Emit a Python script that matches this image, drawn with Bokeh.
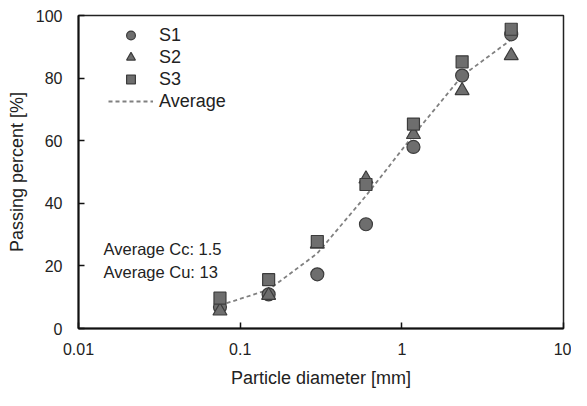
from bokeh.plotting import figure
from bokeh.embed import file_html
from bokeh.resources import INLINE
from bokeh.models import FixedTicker, CustomJSTickFormatter, Legend, LegendItem, Label

diam = [0.075, 0.15, 0.3, 0.6, 1.18, 2.36, 4.75]
s1 = [6.9, 10.9, 17.3, 33.3, 58.0, 80.8, 94.0]
s2 = [5.6, 10.6, 27.0, 47.8, 62.0, 76.0, 87.2]
s3 = [9.7, 15.6, 27.8, 46.0, 65.3, 85.2, 95.6]
avg = [7.4, 12.4, 24.0, 42.4, 61.8, 80.7, 92.3]

FONT = "Liberation Sans"
FILL = "#6e6e6e"
EDGE = "#3c3c3c"

p = figure(width=571, height=390, x_axis_type="log", x_range=(0.01, 10), y_range=(0, 100),
           output_backend="svg", toolbar_location=None,
           min_border_left=78, min_border_right=8, min_border_top=15, min_border_bottom=60)

p.grid.visible = False
p.outline_line_color = "#222222"
p.outline_line_width = 1.5

p.xaxis.ticker = FixedTicker(ticks=[0.01, 0.1, 1, 10], minor_ticks=[])
p.xaxis.formatter = CustomJSTickFormatter(code="return tick.toString();")
p.yaxis.ticker = FixedTicker(ticks=[0, 20, 40, 60, 80, 100], minor_ticks=[])

for ax in (p.xaxis[0], p.yaxis[0]):
    ax.major_tick_in = 6
    ax.major_tick_out = 0
    ax.minor_tick_in = 0
    ax.minor_tick_out = 0
    ax.axis_line_width = 2
    ax.axis_line_color = "#111111"
    ax.major_tick_line_color = "#111111"
    ax.major_tick_line_width = 1.5
    ax.major_label_text_font = FONT
    ax.major_label_text_font_size = "16px"
    ax.major_label_text_color = "#222222"
    ax.axis_label_text_font = FONT
    ax.axis_label_text_font_size = "18px"
    ax.axis_label_text_font_style = "normal"
    ax.axis_label_text_color = "#222222"

p.xaxis.axis_label = "Particle diameter [mm]"
p.yaxis.axis_label = "Passing percent [%]"
p.xaxis.major_label_standoff = 14
p.xaxis.axis_label_standoff = 10
p.yaxis.major_label_standoff = 16
p.yaxis.axis_label_standoff = 6

r_avg = p.line(diam, avg, line_color="#808080", line_width=1.8, line_dash="4 3")
r1 = p.scatter(diam, s1, marker="circle", size=13, fill_color=FILL, line_color=EDGE, line_width=1.2)
r2 = p.scatter(diam, s2, marker="triangle", size=14, fill_color=FILL, line_color=EDGE, line_width=1.2)
r3 = p.scatter(diam, s3, marker="square", size=12, fill_color=FILL, line_color=EDGE, line_width=1.2)

legend = Legend(items=[LegendItem(label="S1", renderers=[r1]),
                       LegendItem(label="S2", renderers=[r2]),
                       LegendItem(label="S3", renderers=[r3]),
                       LegendItem(label="Average", renderers=[r_avg])],
                location=(30, 216), padding=0, margin=0, spacing=0,
                glyph_width=45, glyph_height=22, label_height=22, label_standoff=6,
                background_fill_alpha=0, border_line_alpha=0,
                label_text_font=FONT, label_text_font_size="18px", label_text_color="#222222")
p.add_layout(legend)

for txt, yv in (("Average Cc: 1.5", 80), ("Average Cu: 13", 57)):
    p.add_layout(Label(x=25, y=yv, x_units="screen", y_units="screen", text=txt,
                       text_font=FONT, text_font_size="16.5px", text_color="#222222",
                       text_baseline="middle"))

open("out.html", "w").write(file_html(p, INLINE))
